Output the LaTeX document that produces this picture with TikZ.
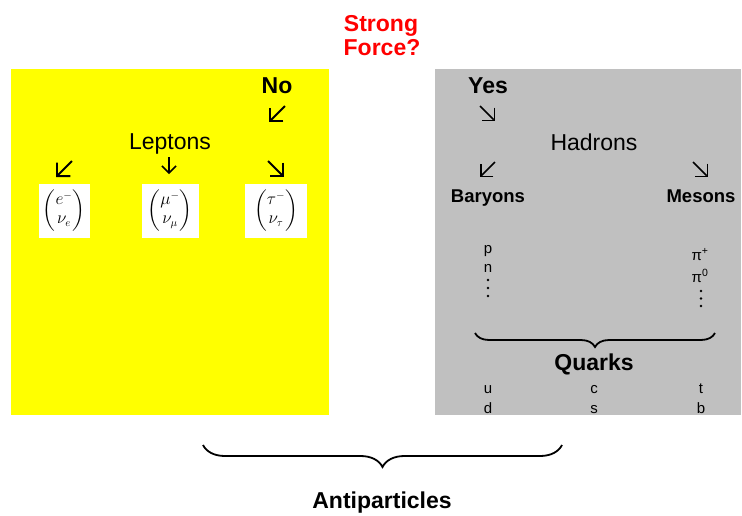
\documentclass[tikz,border=0pt]{standalone}
\usepackage{amsmath}
\usepackage{fontspec}
\setmainfont{Liberation Sans}
\usetikzlibrary{arrows.meta,decorations.pathreplacing}

\definecolor{panelyellow}{HTML}{FFFF00}
\definecolor{panelgray}{HTML}{C0C0C0}
\definecolor{askred}{HTML}{FF0000}

\begin{document}
\begin{tikzpicture}[x=1pt,y=-1pt,
  txt/.style={anchor=base,inner sep=0pt},
  bigtxt/.style={txt,font=\fontsize{23}{28}\selectfont},
  bigbold/.style={txt,font=\fontsize{23}{28}\selectfont\bfseries},
  midbold/.style={txt,font=\fontsize{18.5}{22}\selectfont\bfseries},
  smalltxt/.style={txt,font=\fontsize{15}{18}\selectfont},
  mathbox/.style={fill=white,inner sep=0pt,font=\fontsize{16}{19}\selectfont},
  glyph/.style={line width=1.8pt,-{Straight Barb[length=9.5pt,width=19pt]}},
  thinglyph/.style={line width=1.5pt,-{Straight Barb[length=9pt,width=18pt]}},
  downglyph/.style={line width=1.5pt,-{Straight Barb[length=7pt,width=14pt]}},
  dot/.style={fill=black,circle,inner sep=0pt,minimum size=2.8pt},
  bracestyle/.style={line width=1.8pt,decorate}
]
\useasboundingbox (0,0) rectangle (742,515);

% panels
\fill[panelyellow] (11,69) rectangle (329,415);
\fill[panelgray] (435,69) rectangle (741,415);

% question
\node[bigbold,text=askred] (strong) at (381,31) {Strong};
\node[bigbold,text=askred] (force) at (382,55) {Force?};

% ---- leptons side ----
\node[bigbold] (no) at (277,93) {No};
\coordinate (noA) at (285,106); \coordinate (noB) at (269,122);
\draw[glyph] (noA) -- (noB);

\node[bigtxt] (leptons) at (170,149) {Leptons};
\coordinate (l1A) at (72,161);  \coordinate (l1B) at (56,177);
\coordinate (l2A) at (169,157); \coordinate (l2B) at (169,174);
\coordinate (l3A) at (268,161); \coordinate (l3B) at (284,177);
\draw[glyph] (l1A) -- (l1B);
\draw[downglyph] (l2A) -- (l2B);
\draw[glyph] (l3A) -- (l3B);

\node[mathbox,minimum width=51pt,minimum height=54pt] (ebox) at (64,210.5)
  {$\begin{pmatrix} e^- \\ \nu_e \end{pmatrix}$};
\node[mathbox,minimum width=57pt,minimum height=54pt] (mubox) at (170,210.5)
  {$\begin{pmatrix} \mu^- \\ \nu_\mu \end{pmatrix}$};
\node[mathbox,minimum width=62pt,minimum height=54pt] (taubox) at (276,210.5)
  {$\begin{pmatrix} \tau^- \\ \nu_\tau \end{pmatrix}$};

% ---- hadrons side ----
\node[bigbold] (yes) at (488,93) {Yes};
\coordinate (yA) at (480,106); \coordinate (yB) at (495,121);
\draw[thinglyph] (yA) -- (yB);

\node[bigtxt] (hadrons) at (594,150) {Hadrons};
\coordinate (h1A) at (495,162); \coordinate (h1B) at (480,177);
\coordinate (h2A) at (693,162); \coordinate (h2B) at (708,177);
\draw[thinglyph] (h1A) -- (h1B);
\draw[thinglyph] (h2A) -- (h2B);

\node[midbold] (baryons) at (488,202) {Baryons};
\node[midbold] (mesons) at (701,202) {Mesons};

\node[smalltxt] (p) at (488,253) {p};
\node[smalltxt] (n) at (488,272) {n};
\node[dot] (bd1) at (488,280) {};
\node[dot] (bd2) at (488,288) {};
\node[dot] (bd3) at (488,296) {};
\node[smalltxt] (piplus) at (700,260) {π\textsuperscript{+}};
\node[smalltxt] (pizero) at (700,282) {π\textsuperscript{0}};
\node[dot] (md1) at (701,291) {};
\node[dot] (md2) at (701,298.5) {};
\node[dot] (md3) at (701,306) {};

\coordinate (qbL) at (475,333); \coordinate (qbR) at (715,333);
\draw[bracestyle,decoration={brace,mirror,amplitude=14pt}] (qbL) -- (qbR);

\node[bigbold] (quarks) at (594,370) {Quarks};
\node[smalltxt] (u) at (488,393) {u};
\node[smalltxt] (d) at (488,413) {d};
\node[smalltxt] (c) at (594,393) {c};
\node[smalltxt] (s) at (594,413) {s};
\node[smalltxt] (t) at (701,393) {t};
\node[smalltxt] (b) at (701,413) {b};

% ---- antiparticles ----
\coordinate (abL) at (203,445); \coordinate (abR) at (562,445);
\draw[bracestyle,decoration={brace,mirror,amplitude=22pt}] (abL) -- (abR);
\node[bigbold] (anti) at (382,508) {Antiparticles};
\end{tikzpicture}
\end{document}
